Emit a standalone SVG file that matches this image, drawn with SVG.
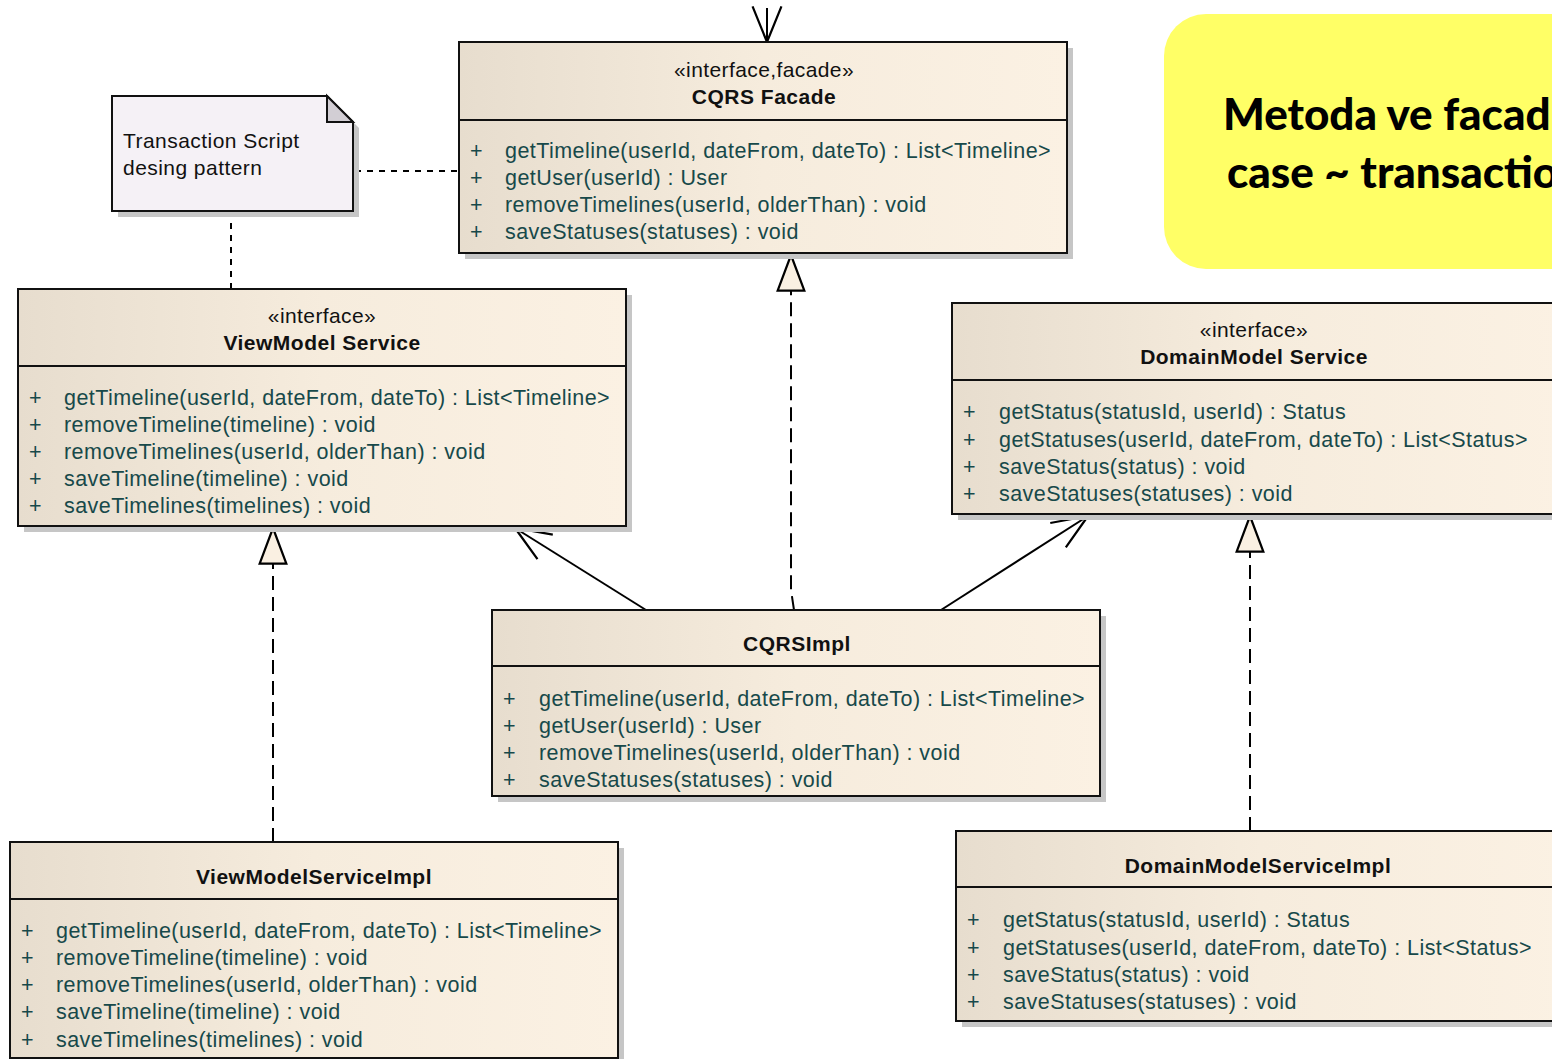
<svg xmlns="http://www.w3.org/2000/svg" width="1552" height="1059" viewBox="0 0 1552 1059">
<defs>
<linearGradient id="cls" x1="0" y1="0" x2="1" y2="0">
<stop offset="0" stop-color="#e7ddce"/>
<stop offset="0.5" stop-color="#f6ecdd"/>
<stop offset="1" stop-color="#fbf1e3"/>
</linearGradient>
<marker id="open" markerWidth="40" markerHeight="40" viewBox="-34 -16 36 32" refX="0" refY="0" orient="auto" markerUnits="userSpaceOnUse">
<path d="M-32,-13 L0,0 L-32,13" fill="none" stroke="#000" stroke-width="2"/>
</marker>
<marker id="tri" markerWidth="40" markerHeight="40" viewBox="-34 -14 36 28" refX="0" refY="0" orient="auto" markerUnits="userSpaceOnUse">
<path d="M-32,-12 L0,0 L-32,12 Z" fill="#faf0e2" stroke="#000" stroke-width="2"/>
</marker>
</defs>
<style>
.shadow{fill:#c6c6c6}
.box{fill:url(#cls);stroke:#111;stroke-width:2}
.div{stroke:#111;stroke-width:2}
.st{font-family:"Liberation Sans",Arial,sans-serif;font-size:21px;fill:#111;text-anchor:middle;letter-spacing:0.4px}
.nm{font-family:"Liberation Sans",Arial,sans-serif;font-size:21px;font-weight:bold;fill:#111;text-anchor:middle;letter-spacing:0.5px}
.m{font-family:"Liberation Sans",Arial,sans-serif;font-size:21.5px;fill:#17494a;letter-spacing:0.45px}
.conn{fill:none;stroke:#000;stroke-width:2}
.dash{stroke-dasharray:14 7}
.dot{stroke-dasharray:6 6}
.note{font-family:"Liberation Sans",Arial,sans-serif;font-size:21px;fill:#111;letter-spacing:0.45px}
.big{font-family:Lato,"Open Sans",sans-serif;font-size:44px;font-weight:900;fill:#000}
</style>

<g id="yellow-note">
<rect x="1164" y="14" width="460" height="255" rx="42" ry="42" fill="#ffff66"/>
<text class="big" x="1223" y="130">Metoda ve facad</text>
<text class="big" x="1227" y="188">case ~ transactio</text>
</g>

<g id="connectors">
<line class="conn" x1="767" y1="8" x2="767" y2="42" marker-end="url(#open)"/>
<line class="conn dot" x1="355" y1="171" x2="459" y2="171"/>
<line class="conn dot" x1="231" y1="211" x2="231" y2="289"/>
<polyline class="conn dash" points="794,610 791,590 791,255" marker-end="url(#tri)"/>
<line class="conn" x1="646" y1="610" x2="515" y2="528" marker-end="url(#open)"/>
<line class="conn" x1="941" y1="610" x2="1088" y2="516" marker-end="url(#open)"/>
<line class="conn dash" x1="273" y1="842" x2="273" y2="528" marker-end="url(#tri)"/>
<line class="conn dash" x1="1250" y1="831" x2="1250" y2="516" marker-end="url(#tri)"/>
</g>

<g id="note-transaction-script">
<polygon points="118,102 333,102 359,128 359,217 118,217" class="shadow"/>
<polygon points="112,96 327,96 353,122 353,211 112,211" fill="#f5f1f6" stroke="#111" stroke-width="2"/>
<polygon points="327,96 327,122 353,122" fill="#d2ced4" stroke="#111" stroke-width="2"/>
<text class="note" x="123" y="148">Transaction Script</text>
<text class="note" x="123" y="175">desing pattern</text>
</g>

<g id="cqrs-facade">
<rect class="shadow" x="465" y="48" width="608" height="211"/>
<rect class="box" x="459" y="42" width="608" height="211"/>
<line class="div" x1="459" y1="120" x2="1067" y2="120"/>
<text class="st" x="764" y="77">«interface,facade»</text>
<text class="nm" x="764" y="104">CQRS Facade</text>
<g class="m">
<text x="470" y="158">+</text><text x="505" y="158">getTimeline(userId, dateFrom, dateTo) : List&lt;Timeline&gt;</text>
<text x="470" y="185">+</text><text x="505" y="185">getUser(userId) : User</text>
<text x="470" y="212">+</text><text x="505" y="212">removeTimelines(userId, olderThan) : void</text>
<text x="470" y="239">+</text><text x="505" y="239">saveStatuses(statuses) : void</text>
</g>
</g>

<g id="viewmodel-service">
<rect class="shadow" x="24" y="295" width="608" height="237"/>
<rect class="box" x="18" y="289" width="608" height="237"/>
<line class="div" x1="18" y1="366" x2="626" y2="366"/>
<text class="st" x="322" y="323">«interface»</text>
<text class="nm" x="322" y="350">ViewModel Service</text>
<g class="m">
<text x="29" y="405">+</text><text x="64" y="405">getTimeline(userId, dateFrom, dateTo) : List&lt;Timeline&gt;</text>
<text x="29" y="432">+</text><text x="64" y="432">removeTimeline(timeline) : void</text>
<text x="29" y="459">+</text><text x="64" y="459">removeTimelines(userId, olderThan) : void</text>
<text x="29" y="486">+</text><text x="64" y="486">saveTimeline(timeline) : void</text>
<text x="29" y="513">+</text><text x="64" y="513">saveTimelines(timelines) : void</text>
</g>
</g>

<g id="domainmodel-service">
<rect class="shadow" x="958" y="309" width="608" height="211"/>
<rect class="box" x="952" y="303" width="608" height="211"/>
<line class="div" x1="952" y1="380" x2="1560" y2="380"/>
<text class="st" x="1254" y="337">«interface»</text>
<text class="nm" x="1254" y="364">DomainModel Service</text>
<g class="m">
<text x="963" y="419">+</text><text x="999" y="419">getStatus(statusId, userId) : Status</text>
<text x="963" y="447">+</text><text x="999" y="447">getStatuses(userId, dateFrom, dateTo) : List&lt;Status&gt;</text>
<text x="963" y="474">+</text><text x="999" y="474">saveStatus(status) : void</text>
<text x="963" y="501">+</text><text x="999" y="501">saveStatuses(statuses) : void</text>
</g>
</g>

<g id="cqrs-impl">
<rect class="shadow" x="498" y="616" width="608" height="186"/>
<rect class="box" x="492" y="610" width="608" height="186"/>
<line class="div" x1="492" y1="666" x2="1100" y2="666"/>
<text class="nm" x="797" y="651">CQRSImpl</text>
<g class="m">
<text x="503" y="706">+</text><text x="539" y="706">getTimeline(userId, dateFrom, dateTo) : List&lt;Timeline&gt;</text>
<text x="503" y="733">+</text><text x="539" y="733">getUser(userId) : User</text>
<text x="503" y="760">+</text><text x="539" y="760">removeTimelines(userId, olderThan) : void</text>
<text x="503" y="787">+</text><text x="539" y="787">saveStatuses(statuses) : void</text>
</g>
</g>

<g id="viewmodel-service-impl">
<rect class="shadow" x="16" y="848" width="608" height="216"/>
<rect class="box" x="10" y="842" width="608" height="216"/>
<line class="div" x1="10" y1="899" x2="618" y2="899"/>
<text class="nm" x="314" y="884">ViewModelServiceImpl</text>
<g class="m">
<text x="21" y="938">+</text><text x="56" y="938">getTimeline(userId, dateFrom, dateTo) : List&lt;Timeline&gt;</text>
<text x="21" y="965">+</text><text x="56" y="965">removeTimeline(timeline) : void</text>
<text x="21" y="992">+</text><text x="56" y="992">removeTimelines(userId, olderThan) : void</text>
<text x="21" y="1019">+</text><text x="56" y="1019">saveTimeline(timeline) : void</text>
<text x="21" y="1047">+</text><text x="56" y="1047">saveTimelines(timelines) : void</text>
</g>
</g>

<g id="domainmodel-service-impl">
<rect class="shadow" x="962" y="837" width="608" height="190"/>
<rect class="box" x="956" y="831" width="608" height="190"/>
<line class="div" x1="956" y1="887" x2="1564" y2="887"/>
<text class="nm" x="1258" y="873">DomainModelServiceImpl</text>
<g class="m">
<text x="967" y="927">+</text><text x="1003" y="927">getStatus(statusId, userId) : Status</text>
<text x="967" y="955">+</text><text x="1003" y="955">getStatuses(userId, dateFrom, dateTo) : List&lt;Status&gt;</text>
<text x="967" y="982">+</text><text x="1003" y="982">saveStatus(status) : void</text>
<text x="967" y="1009">+</text><text x="1003" y="1009">saveStatuses(statuses) : void</text>
</g>
</g>
</svg>
